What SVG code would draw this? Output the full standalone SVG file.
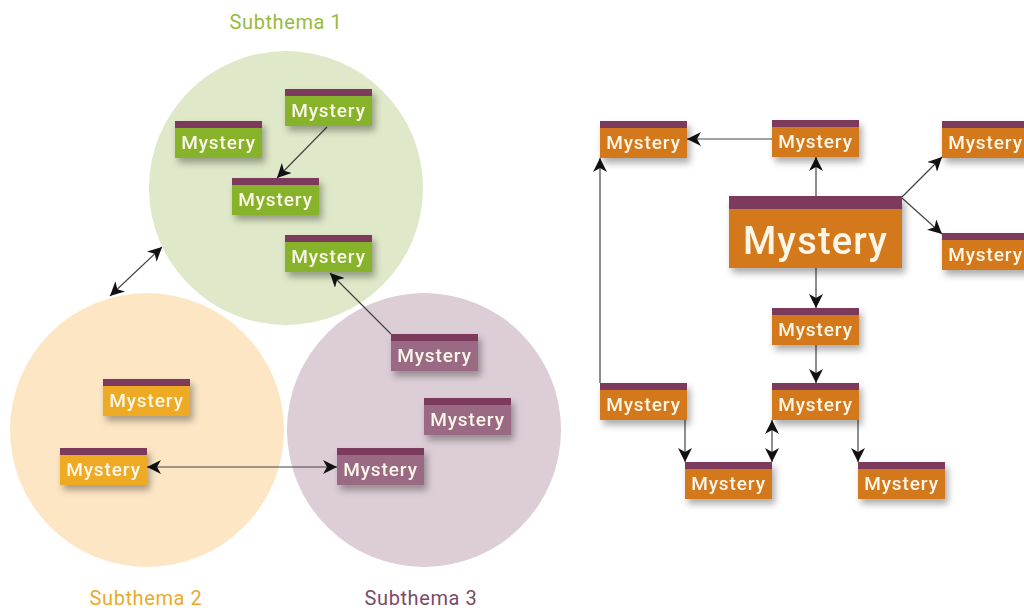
<svg xmlns="http://www.w3.org/2000/svg" width="1024" height="610" viewBox="0 0 1024 610">
<style>
.bar{fill:#7b3a5c}
.g{fill:#86b32b}
.o{fill:#eeaa22}
.p{fill:#9a6a84}
.r{fill:#d3791b}
.t{font-family:Roboto,"DejaVu Sans",sans-serif;font-weight:500;font-size:19px;letter-spacing:0.9px;fill:#fbf6e8;text-anchor:middle}
.tb{font-family:Roboto,"DejaVu Sans",sans-serif;font-weight:500;font-size:38px;letter-spacing:1.2px;fill:#fbf6e8;text-anchor:middle}
.lab{font-family:Roboto,"DejaVu Sans",sans-serif;font-size:20px;letter-spacing:0.6px;text-anchor:middle}
.c{stroke:#444;stroke-width:1.2;fill:none;marker-end:url(#ah)}
.d{stroke:#444;stroke-width:1.2;fill:none;marker-end:url(#ah);marker-start:url(#ah)}
.n{filter:url(#sh)}
</style>
<defs>
<marker id="ah" markerUnits="userSpaceOnUse" markerWidth="16" markerHeight="14" refX="14" refY="7" orient="auto-start-reverse">
<path d="M0,0 L14,7 L0,14 L4,7 Z" fill="#111"/>
</marker>
<filter id="sh" x="-20%" y="-20%" width="150%" height="170%">
<feDropShadow dx="3" dy="5" stdDeviation="3.5" flood-color="#000" flood-opacity="0.33"/>
</filter>
</defs>
<rect width="1024" height="610" fill="#ffffff"/>
<g id="circles">
<circle cx="286" cy="188" r="137" fill="#dfe8c8"/>
<circle cx="147" cy="430" r="137" fill="#fde6c4"/>
<circle cx="424" cy="430" r="137" fill="#dccdd6"/>
</g>
<g id="labels">
<text class="lab" x="286" y="29" fill="#96bb3c">Subthema 1</text>
<text class="lab" x="146" y="605" fill="#e9aa2c">Subthema 2</text>
<text class="lab" x="421" y="605" fill="#7c4a68">Subthema 3</text>
</g>
<g id="connectors">
<line class="c" x1="327" y1="127" x2="277" y2="178"/>
<line class="c" x1="391" y1="334" x2="330" y2="273"/>
<line class="d" x1="110" y1="296" x2="162" y2="247"/>
<line class="d" x1="147" y1="467" x2="337" y2="467"/>
<line class="c" x1="772" y1="139" x2="687" y2="139"/>
<line class="c" x1="816" y1="196" x2="816" y2="157"/>
<line class="c" x1="902" y1="197" x2="942" y2="157"/>
<line class="c" x1="902" y1="198" x2="942" y2="234"/>
<line class="c" x1="816" y1="268" x2="816" y2="308"/>
<line class="c" x1="816" y1="344" x2="816" y2="383"/>
<line class="c" x1="600" y1="383" x2="600" y2="158"/>
<line class="c" x1="685" y1="420" x2="685" y2="462"/>
<line class="d" x1="772" y1="420" x2="772" y2="462"/>
<line class="c" x1="858" y1="420" x2="858" y2="462"/>
</g>
<g id="nA" class="n"><rect class="g" x="175" y="121" width="87" height="37"/><rect class="bar" x="175" y="121" width="87" height="7"/><text class="t" x="218.5" y="149">Mystery</text></g>
<g id="nB" class="n"><rect class="g" x="285" y="89" width="87" height="37"/><rect class="bar" x="285" y="89" width="87" height="7"/><text class="t" x="328.5" y="117">Mystery</text></g>
<g id="nC" class="n"><rect class="g" x="232" y="178" width="87" height="37"/><rect class="bar" x="232" y="178" width="87" height="7"/><text class="t" x="275.5" y="206">Mystery</text></g>
<g id="nD" class="n"><rect class="g" x="285" y="235" width="87" height="37"/><rect class="bar" x="285" y="235" width="87" height="7"/><text class="t" x="328.5" y="263">Mystery</text></g>
<g id="nE" class="n"><rect class="o" x="103" y="379" width="87" height="37"/><rect class="bar" x="103" y="379" width="87" height="7"/><text class="t" x="146.5" y="407">Mystery</text></g>
<g id="nF" class="n"><rect class="o" x="60" y="448" width="87" height="37"/><rect class="bar" x="60" y="448" width="87" height="7"/><text class="t" x="103.5" y="476">Mystery</text></g>
<g id="nG" class="n"><rect class="p" x="391" y="334" width="87" height="37"/><rect class="bar" x="391" y="334" width="87" height="7"/><text class="t" x="434.5" y="362">Mystery</text></g>
<g id="nH" class="n"><rect class="p" x="424" y="398" width="87" height="37"/><rect class="bar" x="424" y="398" width="87" height="7"/><text class="t" x="467.5" y="426">Mystery</text></g>
<g id="nI" class="n"><rect class="p" x="337" y="448" width="87" height="37"/><rect class="bar" x="337" y="448" width="87" height="7"/><text class="t" x="380.5" y="476">Mystery</text></g>
<g id="nJ" class="n"><rect class="r" x="600" y="121" width="87" height="37"/><rect class="bar" x="600" y="121" width="87" height="7"/><text class="t" x="643.5" y="149">Mystery</text></g>
<g id="nK" class="n"><rect class="r" x="772" y="120" width="87" height="37"/><rect class="bar" x="772" y="120" width="87" height="7"/><text class="t" x="815.5" y="148">Mystery</text></g>
<g id="nL" class="n"><rect class="r" x="729" y="196" width="173" height="72"/><rect class="bar" x="729" y="196" width="173" height="13"/><text class="tb" x="815.5" y="254">Mystery</text></g>
<g id="nM" class="n"><rect class="r" x="942" y="121" width="87" height="37"/><rect class="bar" x="942" y="121" width="87" height="7"/><text class="t" x="985.5" y="149">Mystery</text></g>
<g id="nN" class="n"><rect class="r" x="942" y="233" width="87" height="37"/><rect class="bar" x="942" y="233" width="87" height="7"/><text class="t" x="985.5" y="261">Mystery</text></g>
<g id="nO" class="n"><rect class="r" x="772" y="308" width="87" height="37"/><rect class="bar" x="772" y="308" width="87" height="7"/><text class="t" x="815.5" y="336">Mystery</text></g>
<g id="nP" class="n"><rect class="r" x="600" y="383" width="87" height="37"/><rect class="bar" x="600" y="383" width="87" height="7"/><text class="t" x="643.5" y="411">Mystery</text></g>
<g id="nQ" class="n"><rect class="r" x="772" y="383" width="87" height="37"/><rect class="bar" x="772" y="383" width="87" height="7"/><text class="t" x="815.5" y="411">Mystery</text></g>
<g id="nR" class="n"><rect class="r" x="685" y="462" width="87" height="37"/><rect class="bar" x="685" y="462" width="87" height="7"/><text class="t" x="728.5" y="490">Mystery</text></g>
<g id="nS" class="n"><rect class="r" x="858" y="462" width="87" height="37"/><rect class="bar" x="858" y="462" width="87" height="7"/><text class="t" x="901.5" y="490">Mystery</text></g>
</svg>
